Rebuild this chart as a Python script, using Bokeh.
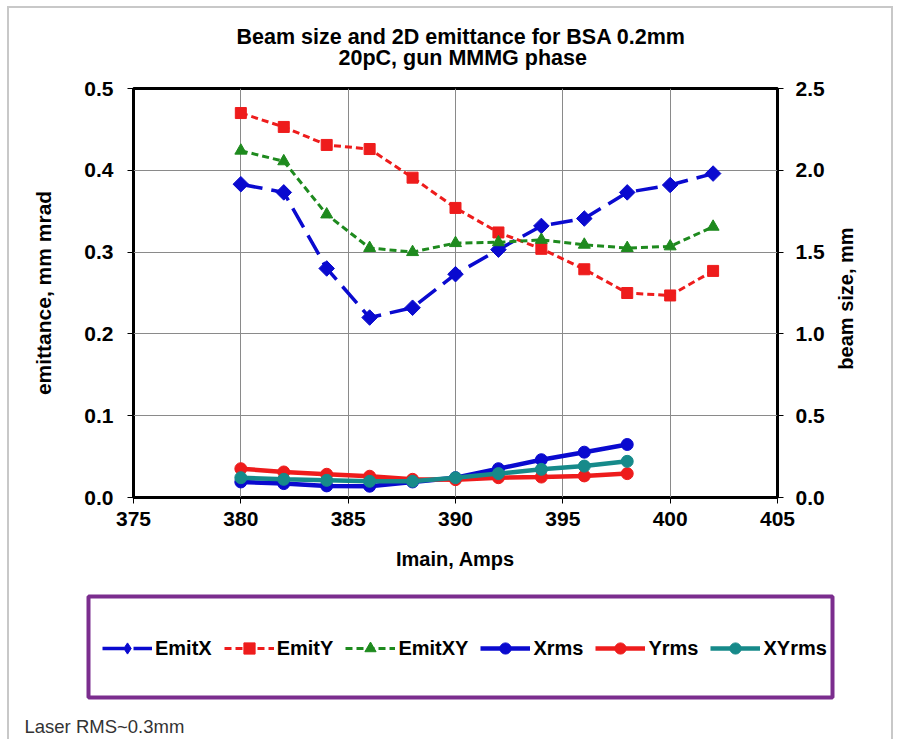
import math
from bokeh.plotting import figure
from bokeh.models import (Range1d, LinearAxis, Legend, LegendItem, Title, Label,
                          BoxAnnotation, FixedTicker, NumeralTickFormatter)
from bokeh.embed import file_html
from bokeh.resources import INLINE

# ---------------- data ----------------
imain = [380, 382, 384, 386, 388, 390, 392, 394, 396, 398, 400, 402]
emit_x = [0.383, 0.373, 0.280, 0.220, 0.232, 0.273, 0.303, 0.332, 0.341, 0.373, 0.382, 0.396]
emit_y = [0.470, 0.453, 0.431, 0.426, 0.391, 0.354, 0.324, 0.304, 0.279, 0.250, 0.247, 0.277]
emit_xy = [0.424, 0.411, 0.346, 0.305, 0.300, 0.311, 0.312, 0.315, 0.309, 0.305, 0.307, 0.331]

imain_rms = [380, 382, 384, 386, 388, 390, 392, 394, 396, 398]
x_rms = [0.095, 0.085, 0.071, 0.069, 0.095, 0.121, 0.176, 0.231, 0.277, 0.324]
y_rms = [0.176, 0.156, 0.142, 0.130, 0.111, 0.109, 0.121, 0.125, 0.132, 0.146]
xy_rms = [0.121, 0.111, 0.105, 0.099, 0.099, 0.121, 0.146, 0.172, 0.192, 0.221]

x_ticks = [375, 380, 385, 390, 395, 400, 405]
emit_ticks = [0.0, 0.1, 0.2, 0.3, 0.4, 0.5]
size_ticks = [0.0, 0.5, 1.0, 1.5, 2.0, 2.5]

title_line1 = "Beam size and 2D emittance for BSA 0.2mm"
title_line2 = "20pC, gun MMMG phase"
right_label = "beam size, mm"
note_text = "Laser RMS~0.3mm"

FONT = "Liberation Sans"
BLUE = "#0A0ACF"
RED = "#EE1C1C"
GREEN = "#1E8A1E"
TEAL = "#168A8A"
PURPLE = "#7B2D8E"
GRAY = "#c8c8c8"

# series styles (name, color, dash, width, marker, legend marker, size, angle)
emit_styles = [
    ("EmitX", BLUE, "22 9", 3.5, "square", "diamond", 11, math.pi / 4),
    ("EmitY", RED, "7 4", 3, "square", "square", 11, 0),
    ("EmitXY", GREEN, "7 4", 3, "triangle", "triangle", 12, 0),
]
rms_styles = [
    ("Xrms", BLUE, "solid", 4.5, "circle", "circle", 12, 0),
    ("Yrms", RED, "solid", 4.5, "circle", "circle", 12, 0),
    ("XYrms", TEAL, "solid", 4.5, "circle", "circle", 12, 0),
]

W = 896
H1 = 585
H2 = 154

p = figure(width=W, height=H1,
           x_range=Range1d(375, 405), y_range=Range1d(0, 0.5),
           output_backend="svg", toolbar_location=None,
           min_border_left=133, min_border_right=119,
           min_border_top=88, min_border_bottom=88)
p.extra_y_ranges = {"beam": Range1d(0, 2.5)}

p.outline_line_color = "black"
p.outline_line_width = 3
p.background_fill_color = "white"
p.border_fill_color = None
p.styles = {
    "background": (f"linear-gradient({GRAY},{GRAY}) 7px 6px / 886px 2px no-repeat, "
                   f"linear-gradient({GRAY},{GRAY}) 7px 6px / 2px 100% no-repeat, "
                   f"linear-gradient({GRAY},{GRAY}) 891px 6px / 2px 100% no-repeat, white")
}

p.xgrid.ticker = FixedTicker(ticks=x_ticks)
p.ygrid.ticker = FixedTicker(ticks=emit_ticks)
for g in (p.xgrid, p.ygrid):
    g.grid_line_color = "#8a8a8a"
    g.grid_line_width = 1


def style_axis(ax):
    ax.axis_line_color = None
    ax.major_tick_line_color = "black"
    ax.major_tick_line_width = 1
    ax.major_tick_out = 6
    ax.major_tick_in = 0
    ax.minor_tick_line_color = None
    ax.major_label_text_font = FONT
    ax.major_label_text_font_style = "bold"
    ax.major_label_text_font_size = "21px"
    ax.major_label_text_color = "black"
    ax.axis_label_text_font = FONT
    ax.axis_label_text_font_style = "bold"
    ax.axis_label_text_font_size = "20px"
    ax.axis_label_text_color = "black"


xa = p.xaxis[0]
style_axis(xa)
xa.ticker = FixedTicker(ticks=x_ticks)
xa.axis_label = "Imain, Amps"
xa.major_label_standoff = 8
xa.axis_label_standoff = 19

ya = p.yaxis[0]
style_axis(ya)
ya.ticker = FixedTicker(ticks=emit_ticks)
ya.formatter = NumeralTickFormatter(format="0.0")
ya.axis_label = "emittance, mm mrad"
ya.axis_label_text_font_size = "21px"
ya.major_label_standoff = 14
ya.axis_label_standoff = 26

right_axis = LinearAxis(y_range_name="beam")
p.add_layout(right_axis, "right")
style_axis(right_axis)
right_axis.ticker = FixedTicker(ticks=size_ticks)
right_axis.formatter = NumeralTickFormatter(format="0.0")
right_axis.major_label_standoff = 12

# titles: spacer nearest the frame, then line 2, then line 1
spacer = Title(text=" ", text_font=FONT, text_font_size="21px", standoff=-6)
p.add_layout(spacer, "above")
t2 = Title(text=title_line2, align="left", offset=205, text_font=FONT,
           text_font_style="bold", text_font_size="21.5px", text_color="black", standoff=0)
p.add_layout(t2, "above")
t1 = Title(text=title_line1, align="left", offset=103, text_font=FONT,
           text_font_style="bold", text_font_size="21.5px", text_color="black", standoff=-10)
p.add_layout(t1, "above")

for (name, col, dash, lw, mk, lmk, sz, ang), ys in zip(emit_styles, [emit_x, emit_y, emit_xy]):
    p.line(imain, ys, line_color=col, line_width=lw, line_dash=dash)
    p.scatter(imain, ys, marker=mk, angle=ang, size=sz, fill_color=col, line_color=col)
for (name, col, dash, lw, mk, lmk, sz, ang), ys in zip(rms_styles, [x_rms, y_rms, xy_rms]):
    p.line(imain_rms, ys, y_range_name="beam", line_color=col, line_width=lw)
    p.scatter(imain_rms, ys, y_range_name="beam", marker=mk, size=sz,
              fill_color=col, line_color=col)

# ---------------- legend panel (separate root so nothing is clipped) ----------------
q = figure(width=W, height=H2, x_range=Range1d(0, 1), y_range=Range1d(0, 1),
           output_backend="svg", toolbar_location=None,
           x_axis_type=None, y_axis_type=None,
           min_border_left=0, min_border_right=0, min_border_top=0, min_border_bottom=0)
q.outline_line_color = None
q.background_fill_color = None
q.border_fill_color = None
q.xgrid.visible = False
q.ygrid.visible = False
q.styles = {
    "background": (f"linear-gradient({GRAY},{GRAY}) 7px 0px / 2px 100% no-repeat, "
                   f"linear-gradient({GRAY},{GRAY}) 891px 0px / 2px 100% no-repeat, white")
}

items = []
all_series = list(zip(emit_styles, [imain] * 3, [emit_x, emit_y, emit_xy])) + \
    list(zip(rms_styles, [imain_rms] * 3, [x_rms, y_rms, xy_rms]))
for (name, col, dash, lw, mk, lmk, sz, ang), xs, ys in all_series:
    # proxies: same data, but outside this panel's ranges, so only the legend glyph shows
    l = q.line(xs, ys, line_color=col, line_width=lw, line_dash=dash)
    s = q.scatter(xs, ys, marker=lmk, size=sz, fill_color=col, line_color=col)
    items.append(LegendItem(label=name, renderers=[l, s]))

box = BoxAnnotation(left=88, right=832, top=H2 - 11, bottom=H2 - 112,
                    left_units="screen", right_units="screen",
                    top_units="screen", bottom_units="screen",
                    fill_alpha=0, fill_color=None,
                    line_color=PURPLE, line_alpha=1.0, line_width=4)
q.add_layout(box)

legend = Legend(items=items, orientation="horizontal", location=(102, H2 - 77),
                glyph_width=50, glyph_height=28, label_height=28, label_standoff=3,
                spacing=12, padding=0, margin=0,
                border_line_color=None, background_fill_alpha=0,
                label_text_font=FONT, label_text_font_style="bold",
                label_text_font_size="20px", label_text_color="black")
q.add_layout(legend)

note = Label(x=24, y=3, x_units="screen", y_units="screen", text=note_text,
             text_font=FONT, text_font_size="18.5px", text_color="#333333",
             text_baseline="bottom")
q.add_layout(note)

# ---------------- right axis title (small transparent overlay, reads bottom-to-top) -------
RW, RH = 30, 170
r = figure(width=RW, height=RH, x_range=Range1d(0, 1), y_range=Range1d(0, 1),
           output_backend="svg", toolbar_location=None,
           x_axis_type=None, y_axis_type=None,
           min_border_left=0, min_border_right=0, min_border_top=0, min_border_bottom=0)
r.outline_line_color = None
r.background_fill_color = None
r.border_fill_color = None
r.xgrid.visible = False
r.ygrid.visible = False
r.styles = {"position": "absolute", "left": "830px", "top": "213px",
            "background": "transparent", "pointer-events": "none"}
r.add_layout(Label(x=RW / 2, y=RH / 2, x_units="screen", y_units="screen",
                   text=right_label, angle=math.pi / 2,
                   text_align="center", text_baseline="middle",
                   text_font=FONT, text_font_style="bold", text_font_size="20px",
                   text_color="black"))

open("out.html", "w").write(file_html([p, q, r], INLINE))
